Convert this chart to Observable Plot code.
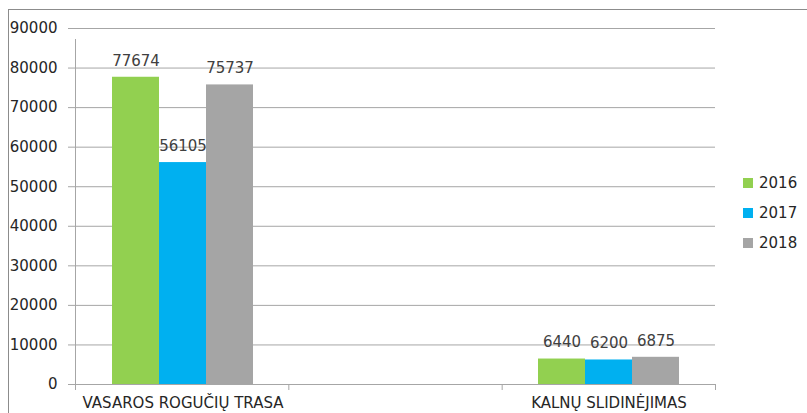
<!DOCTYPE html>
<html>
<head>
<meta charset="utf-8">
<script src="https://cdn.jsdelivr.net/npm/d3@7"></script>
<script src="https://cdn.jsdelivr.net/npm/@observablehq/plot@0.6"></script>
<style>
  body { margin: 0; background: #fff; }
  #wrap { position: relative; width: 807px; height: 413px; overflow: hidden; font-family: "DejaVu Sans", sans-serif; }
  #frame { position: absolute; left: 8px; top: 9px; width: 820px; height: 420px; border-left: 1px solid #8c8c8c; border-top: 1px solid #8c8c8c; }
  .layer { position: absolute; left: 0; top: 0; }
  #legend { position: absolute; left: 743px; top: 168px; font-size: 15px; color: #262626; }
  #legend div { height: 30px; display: flex; align-items: center; }
  #legend span.sw { display: inline-block; width: 10px; height: 10px; margin-right: 6px; }
</style>
</head>
<body>
<div id="wrap">
  <div id="frame"></div>
  <div id="under" class="layer"></div>
  <div id="main" class="layer"></div>
  <div id="legend"></div>
</div>
<script>
const categories = ["VASAROS ROGUČIŲ TRASA", "", "KALNŲ SLIDINĖJIMAS"];
const years = ["2016", "2017", "2018"];
const vasarosRoguciuTrasa = [77674, 56105, 75737];
const kalnuSlidinejimas = [6440, 6200, 6875];
const yTicks = [0, 10000, 20000, 30000, 40000, 50000, 60000, 70000, 80000, 90000];
const colors = ["#92D050", "#00B0F0", "#A5A5A5"];

const rows = [];
years.forEach((yr, i) => rows.push({cat: categories[0], year: yr, value: vasarosRoguciuTrasa[i]}));
years.forEach((yr, i) => rows.push({cat: categories[2], year: yr, value: kalnuSlidinejimas[i]}));

const common = {
  width: 807, height: 413,
  marginLeft: 75, marginRight: 92, marginTop: 28, marginBottom: 29,
  style: {fontFamily: "DejaVu Sans, sans-serif", fontSize: "15px", color: "#262626", background: "transparent", overflow: "visible"}
};

// Under layer: grid, y axis, axis lines and category boundary ticks
const under = Plot.plot({
  ...common,
  x: {domain: [0, categories.length], axis: null},
  y: {domain: [0, 90000], ticks: yTicks, tickFormat: d => String(d), label: null, axis: null},
  marks: [
    Plot.ruleY(yTicks, {stroke: "#a6a6a6", strokeWidth: 1}),
    Plot.axisY({ticks: yTicks, tickFormat: d => String(d), tickSize: 7, tickPadding: 11, stroke: "#a6a6a6", fill: "#262626", label: null}),
    Plot.axisX({ticks: d3.range(0, categories.length + 1), tickFormat: () => "", tickSize: 6, stroke: "#a6a6a6", label: null}),
    Plot.ruleX([0], {y1: 0, y2: 90000, insetBottom: -11, stroke: "#a6a6a6"})
  ]
});
document.getElementById("under").appendChild(under);

// Main layer: bars, value labels, category labels
const main = Plot.plot({
  ...common,
  fx: {domain: categories, padding: 0, label: null, tickSize: 0, tickPadding: 13, axis: "bottom"},
  x: {domain: years, axis: null, paddingInner: 0, paddingOuter: 0.72},
  y: {domain: [0, 90000], axis: null},
  color: {domain: years, range: colors},
  marks: [
    Plot.barY(rows, {fx: "cat", x: "year", y: "value", fill: "year"}),
    Plot.text(rows, {fx: "cat", x: "year", y: "value", text: d => String(d.value), dy: -16.5, fill: "#404040", fontSize: 15})
  ]
});
document.getElementById("main").appendChild(main);

const legend = document.getElementById("legend");
years.forEach((yr, i) => {
  const row = document.createElement("div");
  const sw = document.createElement("span");
  sw.className = "sw";
  sw.style.background = colors[i];
  row.appendChild(sw);
  row.appendChild(document.createTextNode(yr));
  legend.appendChild(row);
});
</script>
</body>
</html>
